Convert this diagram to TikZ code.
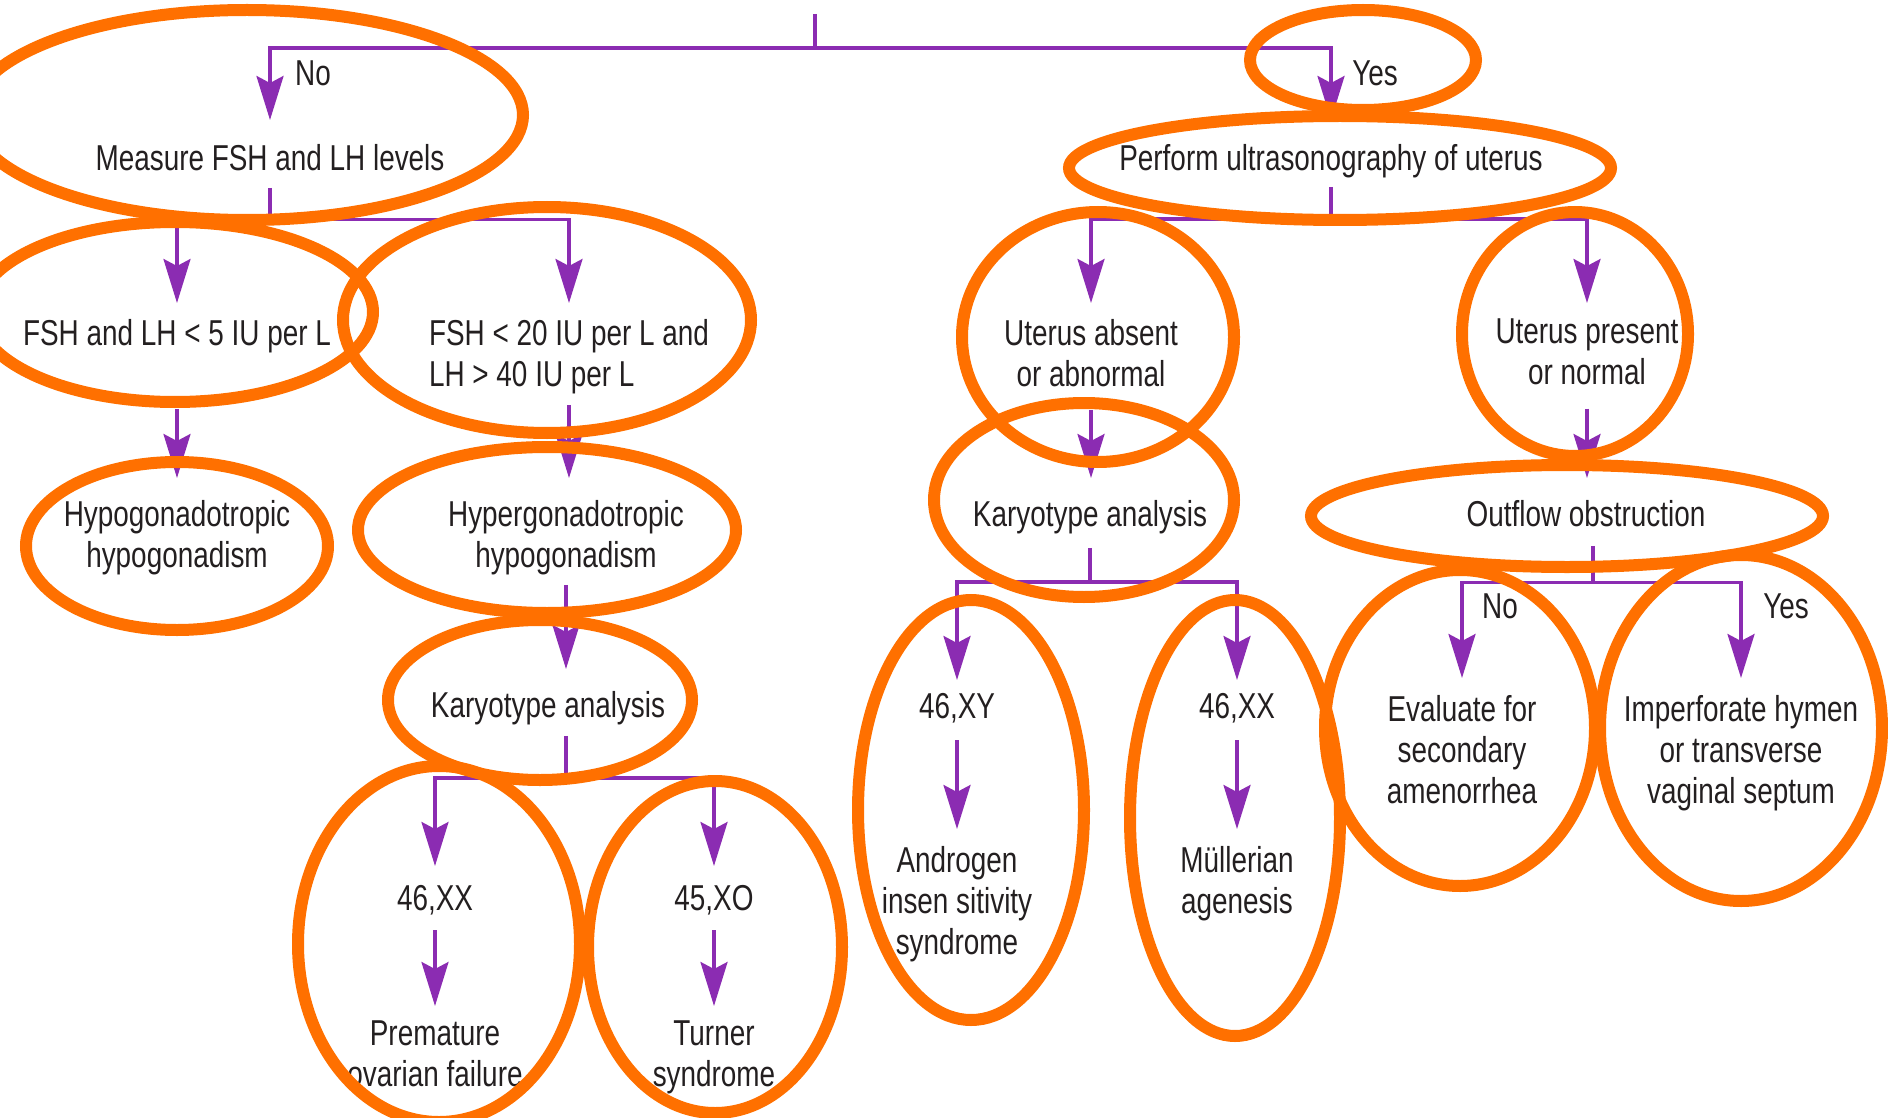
\documentclass[tikz,border=0pt]{standalone}
\usepackage{fontspec}
\setmainfont{Liberation Sans}[FakeStretch=0.775]
\usetikzlibrary{arrows.meta,calc}
\definecolor{flow}{RGB}{139,44,178}
\definecolor{mark}{RGB}{255,112,0}
\definecolor{ink}{RGB}{35,31,32}
\begin{document}
\begin{tikzpicture}[x=1pt,y=-1pt,
  lbl/.style={font=\fontsize{36}{41}\selectfont, text=ink, inner sep=0pt, align=center, anchor=north},
  ln/.style={draw=flow, line width=3.3pt},
  arr/.style={ln, -{Stealth[length=44pt,width=27pt,inset=7pt]}},
  ring/.style={draw=mark, line width=12pt}]
\useasboundingbox (0,0) rectangle (1888,1118);

% ---------- text boxes ----------
\node[lbl] (tNo)      at (313,61)   {No};
\node[lbl] (tMeasure) at (270,144)  {Measure FSH and LH levels};
\node[lbl] (tLow)     at (177,319)  {FSH and LH < 5 IU per L};
\node[lbl, align=left] (tHigh) at (569,319) {FSH < 20 IU per L and\\LH > 40 IU per L};
\node[lbl] (tHypo)    at (177,500)  {Hypogonadotropic\\hypogonadism};
\node[lbl] (tHyper)   at (566,500)  {Hypergonadotropic\\hypogonadism};
\node[lbl] (tKarL)    at (548,691)  {Karyotype analysis};
\node[lbl] (tXXL)     at (435,885)  {46,XX};
\node[lbl] (tPOF)     at (435,1021) {Premature\\ovarian failure};
\node[lbl] (tXO)      at (714,885)  {45,XO};
\node[lbl] (tTurner)  at (714,1021) {Turner\\syndrome};

\node[lbl] (tYes)     at (1375,61)  {Yes};
\node[lbl] (tUS)      at (1331,144) {Perform ultrasonography of uterus};
\node[lbl] (tAbs)     at (1091,319) {Uterus absent\\or abnormal};
\node[lbl] (tPres)    at (1587,319) {Uterus present\\or normal};
\node[lbl] (tKarR)    at (1090,500) {Karyotype analysis};
\node[lbl] (tOut)     at (1586,500) {Outflow obstruction};
\node[lbl] (tXY)      at (957,693)  {46,XY};
\node[lbl] (tAIS)     at (957,846)  {Androgen\\insen sitivity\\syndrome};
\node[lbl] (tXXR)     at (1237,693) {46,XX};
\node[lbl] (tMull)    at (1237,846) {Müllerian\\agenesis};
\node[lbl] (tNo2)     at (1500,594) {No};
\node[lbl] (tEval)    at (1462,695) {Evaluate for\\secondary\\amenorrhea};
\node[lbl] (tYes2)    at (1786,594) {Yes};
\node[lbl] (tImp)     at (1741,695) {Imperforate hymen\\or transverse\\vaginal septum};

% ---------- connectors ----------
\coordinate (root) at (815,14);
\draw[ln] (root) -- ++(0,34) coordinate (j0);
\draw[arr, shorten >=24pt] (j0) -| (tMeasure.north);
\draw[arr, shorten >=24pt] (j0) -| (tUS.north);

% left branch
\draw[ln] ($(tMeasure.south)+(0,17)$) -- ++(0,32) coordinate (j1);
\draw[arr, shorten >=16pt] (j1) -| (tLow.north);
\draw[arr, shorten >=16pt] (j1) -| (tHigh.north);
\draw[arr, shorten >=22pt] ($(tLow.south)+(0,56)$) -- (tHypo.north);
\draw[arr, shorten >=22pt] ($(tHigh.south)+(0,11)$) -- (tHigh.south |- tHyper.north);
\draw[arr, shorten >=22pt] ($(tHyper.south)+(0,10)$) -- (tHyper.south |- tKarL.north);
\draw[ln] ($(tKarL.south -| tHyper.south)+(0,11)$) -- ++(0,42) coordinate (j2);
\draw[arr, shorten >=19pt] (j2) -| (tXXL.north);
\draw[arr, shorten >=19pt] (j2) -| (tXO.north);
\draw[arr, shorten >=15pt] ($(tXXL.south)+(0,15)$) -- (tPOF.north);
\draw[arr, shorten >=15pt] ($(tXO.south)+(0,15)$) -- (tTurner.north);

% right branch
\draw[ln] ($(tUS.south)+(0,9)$) -- ++(0,32) coordinate (j3);
\draw[arr, shorten >=16pt] (j3) -| (tAbs.north);
\draw[arr, shorten >=16pt] (j3) -| (tPres.north);
\draw[arr, shorten >=22pt] ($(tAbs.south)+(0,23)$) -- (tAbs.south |- tKarR.north);
\draw[arr, shorten >=22pt] ($(tPres.south)+(0,23)$) -- (tPres.south |- tOut.north);
\draw[ln] ($(tKarR.south)+(0,14)$) -- ++(0,34) coordinate (j4);
\draw[arr, shorten >=13pt] (j4) -| (tXY.north);
\draw[arr, shorten >=13pt] (j4) -| (tXXR.north);
\draw[arr, shorten >=17pt] ($(tXY.south)+(0,17)$) -- (tAIS.north);
\draw[arr, shorten >=17pt] ($(tXXR.south)+(0,17)$) -- (tMull.north);
\draw[ln] ($(tOut.south)+(7,19)$) -- ++(0,37) coordinate (j5);
\draw[arr, shorten >=17pt] (j5) -| (tEval.north);
\draw[arr, shorten >=17pt] (j5) -| (tImp.north);

% ---------- orange rings ----------
\draw[ring] (247,115)  ellipse [x radius=276pt, y radius=105pt];
\draw[ring] (175,312)  ellipse [x radius=198pt, y radius=90pt];
\draw[ring] (547,320)  ellipse [x radius=204pt, y radius=113pt];
\draw[ring] (177,546)  ellipse [x radius=151pt, y radius=84pt];
\draw[ring] (547,530)  ellipse [x radius=189pt, y radius=83pt];
\draw[ring] (540,700)  ellipse [x radius=152pt, y radius=80pt];
\draw[ring] (439,944)  ellipse [x radius=141pt, y radius=178pt];
\draw[ring] (715,947)  ellipse [x radius=127pt, y radius=166pt];
\draw[ring] (1363,60)  ellipse [x radius=113pt, y radius=50pt];
\draw[ring] (1340,168) ellipse [x radius=271pt, y radius=52pt];
\draw[ring] (1098,337) ellipse [x radius=136pt, y radius=125pt];
\draw[ring] (1575,334) ellipse [x radius=113pt, y radius=122pt];
\draw[ring] (1084,500) ellipse [x radius=150pt, y radius=97pt];
\draw[ring] (1567,516) ellipse [x radius=256pt, y radius=51pt];
\draw[ring] (971,810)  ellipse [x radius=113pt, y radius=210pt];
\draw[ring] (1235,818) ellipse [x radius=105pt, y radius=218pt];
\draw[ring] (1460,728) ellipse [x radius=135pt, y radius=158pt];
\draw[ring] (1741,728) ellipse [x radius=141pt, y radius=173pt];
\end{tikzpicture}
\end{document}
